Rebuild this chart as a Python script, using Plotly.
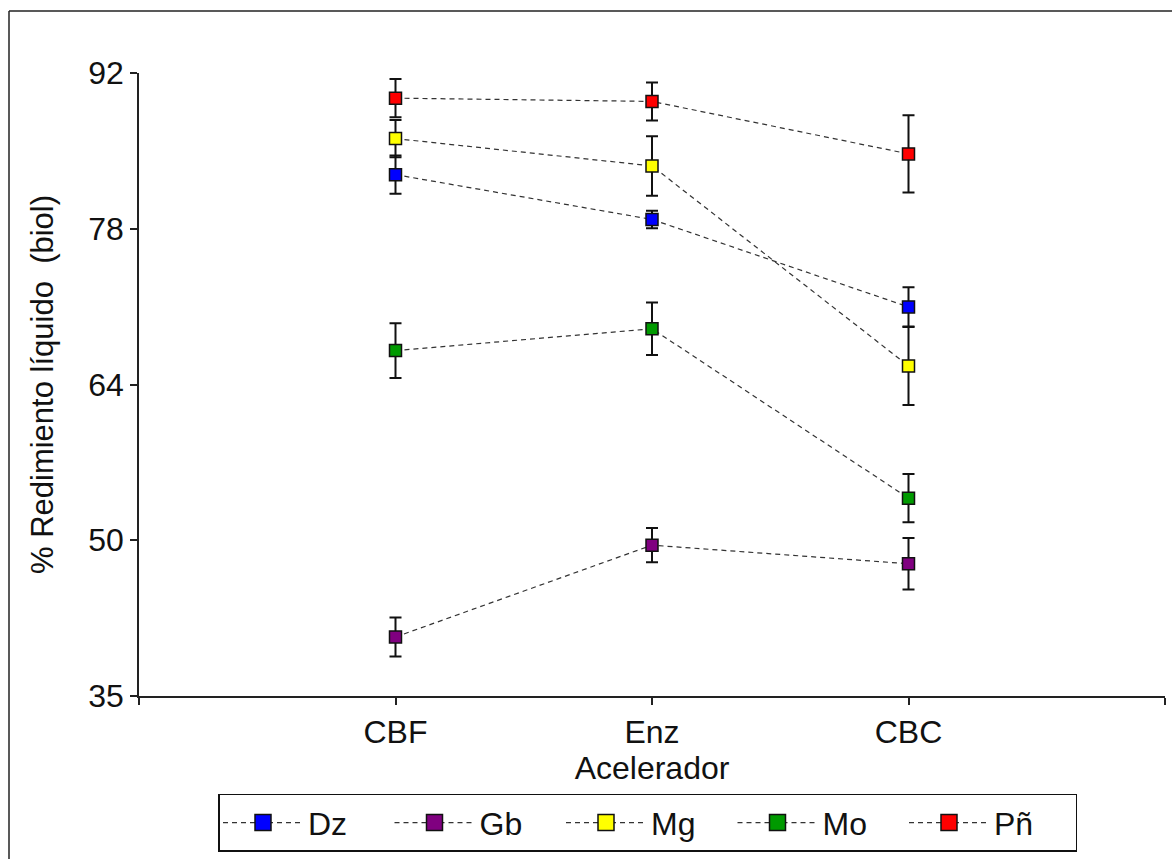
import plotly.graph_objects as go

categories = ["CBF", "Enz", "CBC"]
x_pos = [0, 1, 2]

series_names = ["Dz", "Gb", "Mg", "Mo", "Pñ"]
series_colors = ["#0000FF", "#800080", "#FFFF00", "#009A00", "#FF0000"]

dz_values = [82.7, 78.6, 70.6]
gb_values = [40.4, 48.8, 47.1]
mg_values = [86.0, 83.5, 65.2]
mo_values = [66.6, 68.6, 53.1]
pn_values = [89.7, 89.4, 84.6]

dz_err = [1.75, 0.8, 1.8]
gb_err = [1.78, 1.56, 2.36]
mg_err = [1.7, 2.72, 3.57]
mo_err = [2.5, 2.4, 2.2]
pn_err = [1.74, 1.74, 3.54]

y_tickvals = [35, 49.25, 63.5, 77.75, 92]
y_ticktext = ["35", "50", "64", "78", "92"]

values = [dz_values, gb_values, mg_values, mo_values, pn_values]
errors = [dz_err, gb_err, mg_err, mo_err, pn_err]

FONT = "Liberation Sans, Arial, sans-serif"
LINE = dict(color="#333333", width=1.2, dash="5px,4px")

fig = go.Figure()
for name, color, vals, errs in zip(series_names, series_colors, values, errors):
    fig.add_trace(go.Scatter(
        x=x_pos, y=vals, name=name, mode="lines+markers",
        line=LINE, showlegend=False, legendgroup=name,
        marker=dict(symbol="square", size=12, color=color,
                    line=dict(color="#111111", width=1.5)),
        error_y=dict(type="data", array=errs, visible=True,
                     color="#111111", thickness=2, width=6),
    ))
# legend entries (larger markers in the legend, as in the reference)
for name, color in zip(series_names, series_colors):
    fig.add_trace(go.Scatter(
        x=[None], y=[None], name=name, mode="lines+markers",
        line=LINE, showlegend=True, legendgroup=name,
        marker=dict(symbol="square", size=16, color=color,
                    line=dict(color="#111111", width=1.5)),
    ))

fig.update_layout(
    width=1172, height=859,
    margin=dict(l=139, r=7, t=73, b=163),
    paper_bgcolor="white", plot_bgcolor="white",
    font=dict(family=FONT, size=32, color="#111111"),
    showlegend=True,
    legend=dict(
        orientation="h", x=0.077, xanchor="left", y=-0.157, yanchor="top",
        bordercolor="#111111", borderwidth=1.5, bgcolor="white",
        itemwidth=80, entrywidth=76.5, entrywidthmode="pixels",
        font=dict(family=FONT, size=32, color="#111111"),
        itemclick=False, itemdoubleclick=False,
    ),
    xaxis=dict(
        range=[-1, 3], tickvals=[-1, 0, 1, 2, 3],
        ticktext=[""] + categories + [""],
        showgrid=False, zeroline=False,
        showline=True, linecolor="#222222", linewidth=1.5,
        ticks="outside", ticklen=7, tickwidth=1.5, tickcolor="#222222",
        title=dict(text="Acelerador", standoff=6,
                   font=dict(family=FONT, size=32, color="#111111")),
        tickfont=dict(family=FONT, size=32, color="#111111"),
    ),
    yaxis=dict(
        range=[35, 92], tickvals=y_tickvals, ticktext=y_ticktext,
        showgrid=False, zeroline=False,
        showline=True, linecolor="#222222", linewidth=1.5,
        ticks="outside", ticklen=7, tickwidth=1.5, tickcolor="#222222",
        title=dict(text="% Redimiento líquido  (biol)", standoff=25,
                   font=dict(family=FONT, size=31, color="#111111")),
        tickfont=dict(family=FONT, size=32, color="#111111"),
    ),
    shapes=[
        dict(type="line", xref="paper", yref="paper",
             x0=(9 - 139) / 1026, x1=(1180 - 139) / 1026,
             y0=(696 - 11) / 623, y1=(696 - 11) / 623,
             line=dict(color="#222222", width=1.5)),
        dict(type="line", xref="paper", yref="paper",
             x0=(9 - 139) / 1026, x1=(9 - 139) / 1026,
             y0=(696 - 11) / 623, y1=(696 - 870) / 623,
             line=dict(color="#222222", width=1.5)),
    ],
)

fig.write_html("out.html")
